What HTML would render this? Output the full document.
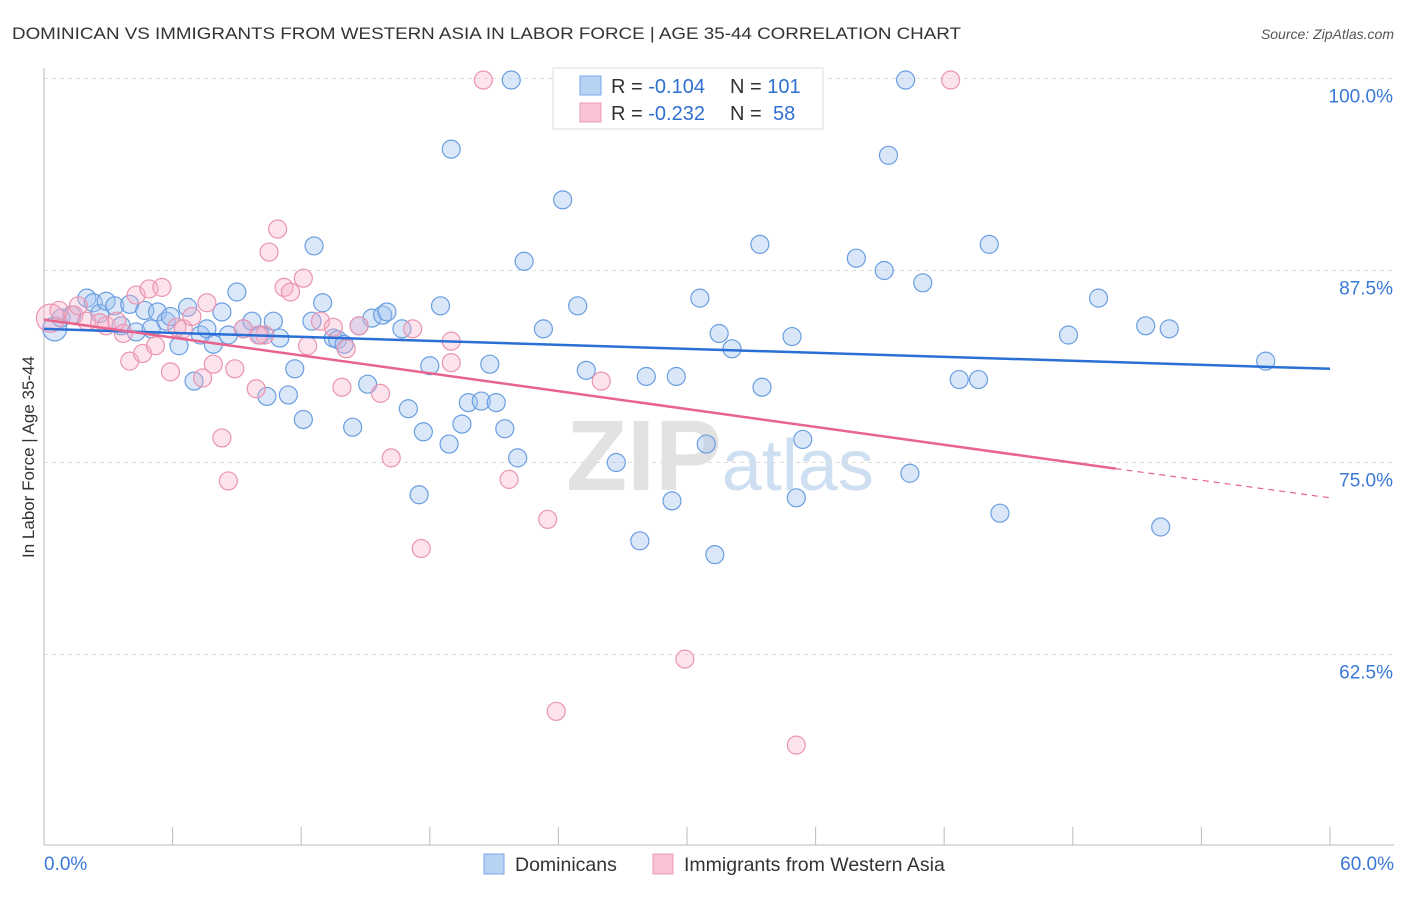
<!DOCTYPE html>
<html><head><meta charset="utf-8"><style>
body{margin:0;background:#fff;font-family:"Liberation Sans",sans-serif;}
svg text{font-family:"Liberation Sans",sans-serif;}
</style></head><body>
<svg id="chart" width="1406" height="892">
<text x="12" y="39" font-size="17" fill="#333" textLength="949" lengthAdjust="spacingAndGlyphs">DOMINICAN VS IMMIGRANTS FROM WESTERN ASIA IN LABOR FORCE | AGE 35-44 CORRELATION CHART</text>
<text x="1394" y="39" font-size="14" fill="#555" font-style="italic" text-anchor="end">Source: ZipAtlas.com</text>
<text x="720" y="490" font-size="100" fill="#e2e2e2" text-anchor="middle" font-weight="bold" font-family="Liberation Serif">ZIP<tspan fill="#cfdff2" font-family="Liberation Sans" font-weight="normal" font-size="72">atlas</tspan></text>
<text transform="translate(34,457) rotate(-90)" font-size="17" fill="#333" text-anchor="middle">In Labor Force | Age 35-44</text>
<g id="grid"></g><g id="pts"></g><g id="trend"></g>
<g>
<rect x="553" y="68" width="270" height="61" fill="#fff" stroke="#ddd"/>
<rect x="580" y="76" width="21" height="19" fill="#b8d2f4" stroke="#7aa8e8"/>
<rect x="580" y="103" width="21" height="19" fill="#f9c4d4" stroke="#eb9ab4"/>
<text x="611" y="93" font-size="20" fill="#333">R = <tspan fill="#2f6fd0">-0.104</tspan><tspan x="730">N = </tspan><tspan fill="#2f6fd0">101</tspan></text>
<text x="611" y="120" font-size="20" fill="#333">R = <tspan fill="#2f6fd0">-0.232</tspan><tspan x="730">N = </tspan><tspan fill="#2f6fd0" x="773">58</tspan></text>
</g>
<g>
<rect x="484" y="854" width="20" height="20" fill="#b8d2f4" stroke="#7aa8e8"/>
<text x="515" y="871" font-size="19.5" fill="#333">Dominicans</text>
<rect x="653" y="854" width="20" height="20" fill="#f9c4d4" stroke="#eb9ab4"/>
<text x="684" y="871" font-size="19.5" fill="#333">Immigrants from Western Asia</text>
</g>
</svg>
<script>
const xTicks=[0,6,12,18,24,30,36,42,48,54,60];
const yTicks=[100,87.5,75,62.5];
const yTickLabels=["100.0%","87.5%","75.0%","62.5%"];
const blueX=[0.5,0.8,1.3,2.0,2.3,2.6,2.9,3.3,3.6,4.0,4.3,4.7,5.0,5.3,5.7,5.9,6.3,6.7,7.0,7.3,7.6,7.9,8.3,8.6,9.0,9.3,9.7,10.1,10.4,10.7,11.0,11.4,11.7,12.1,12.5,12.6,13.0,13.5,13.7,14.0,14.4,14.7,15.1,15.3,15.8,16.0,16.7,17.0,17.5,17.7,18.0,18.5,18.9,19.0,19.5,19.8,20.4,20.8,21.1,21.5,21.8,22.1,22.4,23.3,24.2,24.9,25.3,26.7,27.8,28.1,28.5,29.3,29.5,30.6,30.9,31.3,31.5,32.1,33.4,33.5,34.9,35.1,35.4,37.9,39.2,39.4,40.2,40.4,41.0,42.7,43.6,44.1,44.6,47.8,49.2,51.4,52.1,52.5,57.0];
const blueY=[83.7,84.4,84.6,85.7,85.4,84.7,85.5,85.2,83.9,85.3,83.5,84.9,83.7,84.8,84.2,84.5,82.6,85.1,80.3,83.3,83.7,82.7,84.8,83.3,86.1,83.7,84.2,83.3,79.3,84.2,83.1,79.4,81.1,77.8,84.2,89.1,85.4,83.1,83.0,82.7,77.3,83.9,80.1,84.4,84.6,84.8,83.7,78.5,72.9,77.0,81.3,85.2,76.2,95.4,77.5,78.9,79.0,81.4,78.9,77.2,99.9,75.3,88.1,83.7,92.1,85.2,81.0,75.0,69.9,80.6,99.9,72.5,80.6,85.7,76.2,69.0,83.4,82.4,89.2,79.9,83.2,72.7,76.5,88.3,87.5,95.0,99.9,74.3,86.7,80.4,80.4,89.2,71.7,83.3,85.7,83.9,70.8,83.7,81.6];
const pinkX=[0.3,0.7,1.4,1.6,2.0,2.6,2.9,3.4,3.7,4.0,4.3,4.6,4.9,5.2,5.5,5.9,6.2,6.5,6.9,7.4,7.6,7.9,8.3,8.6,8.9,9.3,9.9,10.3,10.5,10.9,11.2,11.5,12.1,12.3,12.9,13.5,13.9,14.1,14.7,15.7,16.2,17.2,17.6,19.0,19.0,20.5,21.7,23.5,23.9,26.0,29.9,35.1,42.3,10.0];
const pinkY=[84.4,84.9,84.6,85.2,84.2,84.1,83.9,84.2,83.4,81.6,85.9,82.1,86.3,82.6,86.4,80.9,83.8,83.7,84.5,80.5,85.4,81.4,76.6,73.8,81.1,83.7,79.8,83.3,88.7,90.2,86.4,86.1,87.0,82.6,84.2,83.8,79.9,82.4,83.9,79.5,75.3,83.7,69.4,81.5,82.9,99.9,73.9,71.3,58.8,80.3,62.2,56.6,99.9,83.3];
const blueTrend=[[0,83.7],[60,81.1]];
const pinkTrend=[[0,84.3],[50,74.6],[60,72.7]];
const NS="http://www.w3.org/2000/svg";
const X=v=>44+v/60*1286;
const Y=v=>78.5+(100-v)/12.5*192;
function mk(tag,attrs,parent){const e=document.createElementNS(NS,tag);for(const k in attrs)e.setAttribute(k,attrs[k]);parent.appendChild(e);return e;}
const grid=document.getElementById('grid');
yTicks.forEach((t,i)=>{
 const l=mk('line',{x1:44,x2:1394,y1:Y(t),y2:Y(t),stroke:'#ddd','stroke-dasharray':'4,4'},grid);
 
 
 const tx=mk('text',{x:1393,y:Y(t)+24,'font-size':19,fill:'#3a78d8','text-anchor':'end'},grid);
 tx.textContent=yTickLabels[i];
 
 
});
const ax=mk('line',{x1:44,x2:1394,y1:845,y2:845,stroke:'#bbb'},grid);


const ay=mk('line',{x1:44,x2:44,y1:68,y2:845,stroke:'#bbb'},grid);


xTicks.forEach(t=>{
 const l=mk('line',{x1:X(t),x2:X(t),y1:827,y2:845,stroke:'#bbb'},grid);
 
 
});
[[0,'0.0%','start',44],[60,'60.0%','end',1394]].forEach(a=>{
 const tx=mk('text',{x:a[3],y:870,'font-size':19,fill:'#3a78d8','text-anchor':a[2]},grid);
 tx.textContent=a[1];
 
 
});
const pts=document.getElementById('pts');
blueX.forEach((x,i)=>{
 const c=mk('circle',{cx:X(x),cy:Y(blueY[i]),r:i==0?12:9,fill:'rgba(160,195,240,0.4)',stroke:'#6a9ee0','stroke-width':1.2},pts);
 
 
});
pinkX.forEach((x,i)=>{
 const c=mk('circle',{cx:X(x),cy:Y(pinkY[i]),r:i==0?14:9,fill:'rgba(245,175,200,0.35)',stroke:'#ea94b0','stroke-width':1.2},pts);
 
 
});
const tr=document.getElementById('trend');
const bl=mk('line',{x1:X(blueTrend[0][0]),y1:Y(blueTrend[0][1]),x2:X(blueTrend[1][0]),y2:Y(blueTrend[1][1]),stroke:'#2a6fd6','stroke-width':2.5},tr);


const pl=mk('line',{x1:X(pinkTrend[0][0]),y1:Y(pinkTrend[0][1]),x2:X(pinkTrend[1][0]),y2:Y(pinkTrend[1][1]),stroke:'#e8648f','stroke-width':2.5},tr);


const pd=mk('line',{x1:X(pinkTrend[1][0]),y1:Y(pinkTrend[1][1]),x2:X(pinkTrend[2][0]),y2:Y(pinkTrend[2][1]),stroke:'#e8648f','stroke-width':1.2,'stroke-dasharray':'6,5'},tr);


</script>
</body></html>
